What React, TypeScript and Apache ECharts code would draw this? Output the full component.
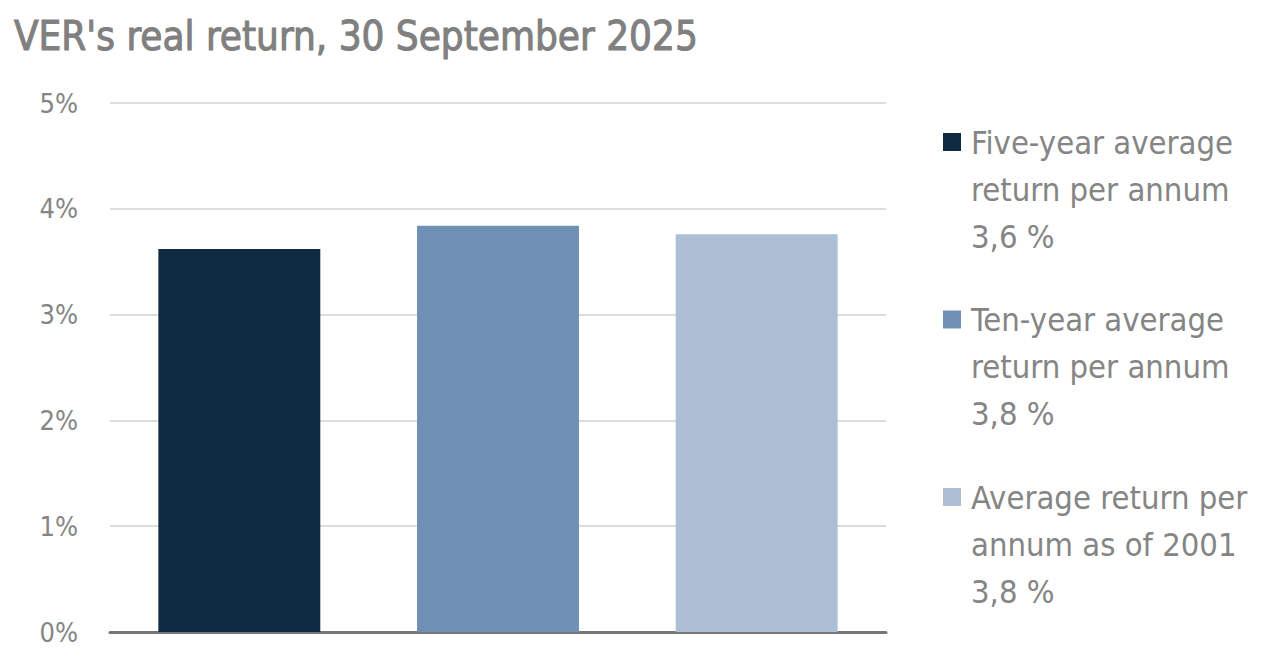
import { useEffect, useRef } from "react";
import * as echarts from "echarts";

const TITLE = "VER's real return, 30 September 2025";

const categories = ["Five-year", "Ten-year", "Since 2001"];
const returns = [3.62, 3.84, 3.76];
const barColors = ["#0e2a40", "#6f90b4", "#adbfd4"];
const legendLabels = [
  "Five-year average\nreturn per annum\n3,6 %",
  "Ten-year average\nreturn per annum\n3,8 %",
  "Average return per\nannum as of 2001\n3,8 %",
];
const yTicks = [0, 1, 2, 3, 4, 5];

const FONT = "'DejaVu Sans Condensed', 'DejaVu Sans', sans-serif";
const GRAY_TEXT = "#858585";

export default function App() {
  const containerRef = useRef<HTMLDivElement | null>(null);

  useEffect(() => {
    if (!containerRef.current) {
      return;
    }

    const chart = echarts.init(containerRef.current, null, { renderer: "svg" });

    const legendGraphics = legendLabels.flatMap((label, index) => {
      const top = 133 + index * 177.5;
      return [
        {
          type: "rect",
          left: 943,
          top,
          shape: { width: 18, height: 18 },
          style: { fill: barColors[index] },
        },
        {
          type: "text",
          left: 971,
          top: top - 14,
          style: {
            text: label,
            fill: GRAY_TEXT,
            font: `32.5px ${FONT}`,
            lineHeight: 47,
          },
        },
      ];
    });

    const option: echarts.EChartsOption = {
      animation: false,
      backgroundColor: "#ffffff",
      title: {
        text: TITLE,
        left: 9,
        top: 11,
        textStyle: {
          color: "#808080",
          fontFamily: FONT,
          fontWeight: "normal",
          fontSize: 40,
          textBorderColor: "#808080",
          textBorderWidth: 1,
        },
      },
      grid: {
        left: 110,
        right: 402,
        top: 103,
        bottom: 40,
      },
      xAxis: {
        type: "category",
        data: categories,
        axisTick: { show: false },
        axisLabel: { show: false },
        axisLine: {
          lineStyle: { color: "#767676", width: 3 },
        },
      },
      yAxis: {
        type: "value",
        min: yTicks[0],
        max: yTicks[yTicks.length - 1],
        interval: 1,
        axisLine: { show: false },
        axisTick: { show: false },
        axisLabel: {
          formatter: "{value}%",
          color: GRAY_TEXT,
          fontFamily: FONT,
          fontSize: 27,
          margin: 32,
        },
        splitLine: {
          lineStyle: { color: "#dcdcdc", width: 2 },
        },
      },
      series: [
        {
          type: "bar",
          barWidth: "62.6%",
          data: returns.map((value, index) => ({
            value,
            itemStyle: { color: barColors[index] },
          })),
        },
      ],
      graphic: legendGraphics,
    };

    chart.setOption(option);

    return () => {
      chart.dispose();
    };
  }, []);

  return (
    <div
      ref={containerRef}
      style={{ position: "fixed", left: 0, top: 0, width: 1288, height: 672 }}
    />
  );
}
